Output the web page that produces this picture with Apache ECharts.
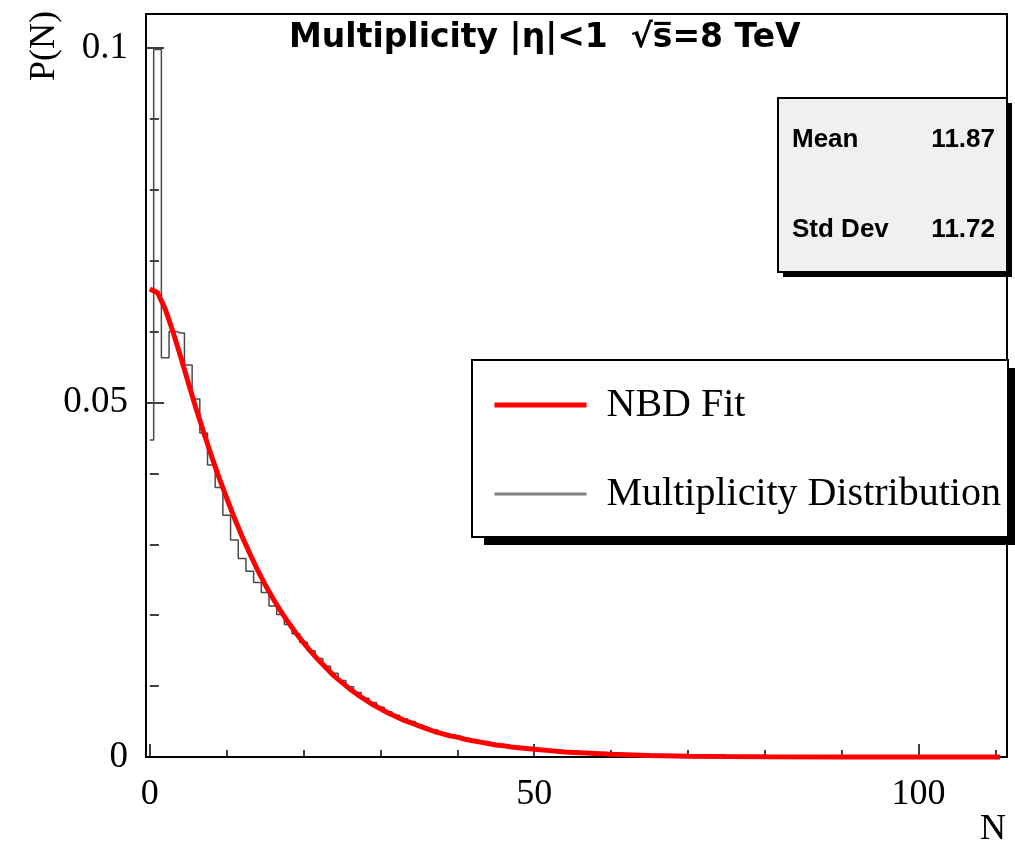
<!DOCTYPE html>
<html><head><meta charset="utf-8">
<script src="https://cdn.jsdelivr.net/npm/echarts@6.0.0/dist/echarts.min.js"></script>
<style>html,body{margin:0;padding:0;background:#fff}#c{width:1015px;height:852px}</style>
</head><body><div id="c"></div><script>
// ---- data ----
const chartTitle = 'Multiplicity |\u03b7|<1  \u221as\u0305=8 TeV';
const xTitle = 'N';
const yTitle = 'P(N)';
const legendNames = ['NBD Fit', 'Multiplicity Distribution'];
const statLabels = ['Mean', 'Std Dev'];
const statValues = ['11.87', '11.72'];
const xMajorTicks = [0, 50, 100];
const xMinorTicks = [10, 20, 30, 40, 60, 70, 80, 90, 110];
const yMajorTicks = [0, 0.05, 0.1];
const yMinorTicks = [0.01, 0.02, 0.03, 0.04, 0.06, 0.07, 0.08, 0.09];

// histogram: P(N) for N = 0,1,2,...
const histP = [
 0.0447, 0.0998, 0.0563, 0.0600, 0.0598, 0.0553, 0.0505, 0.0457, 0.0412, 0.0380,
 0.0341, 0.0306, 0.0280, 0.0262, 0.0246, 0.0232, 0.0213, 0.0201, 0.0187, 0.0174,
 0.0162, 0.0150, 0.0139, 0.0128, 0.0118, 0.0108, 0.0099, 0.0091, 0.0083, 0.0077,
 0.0070, 0.0064, 0.0059, 0.0054, 0.0050, 0.0045, 0.0041, 0.0038, 0.0034, 0.0031,
 0.0029, 0.0026, 0.0024, 0.0022, 0.0020, 0.0018, 0.0016, 0.0015, 0.0013, 0.0012,
 0.0011, 0.0010, 0.0009, 0.0008, 0.0007, 0.0006, 0.0005, 0.0005, 0.0004, 0.0004,
 0.0003, 0.0003, 0.0003, 0.0002, 0.0002, 0.0002, 0.0001, 0.0001, 0.0001, 0.0001,
 0.0001, 0.0001, 0.0001, 0.0001, 0.0001, 0.0000, 0.0000, 0.0000, 0.0000, 0.0000,
 0.0000, 0.0000, 0.0000, 0.0000, 0.0000, 0.0000, 0.0000, 0.0000, 0.0000, 0.0000,
 0.0000, 0.0000, 0.0000, 0.0000, 0.0000, 0.0000, 0.0000, 0.0000, 0.0000, 0.0000,
 0.0000, 0.0000, 0.0000, 0.0000, 0.0000, 0.0000, 0.0000, 0.0000, 0.0000, 0.0000,
 0.0000
];

// NBD fit curve
const fitN = [0,1,2,3,4,5,6,7,8,9,10,11,12,13,14,15,16,17,18,19,20,21,22,23,24,25,26,27,28,29,30,
  31,32,33,34,35,36,37,38,39,40,41,42,43,44,45,46,47,48,49,50,52,54,56,58,60,65,70,75,80,90,100,110.6];
const fitP = [0.0660,0.0655,0.0632,0.0600,0.0565,0.0528,0.0492,0.0458,0.0425,0.0394,0.0365,
  0.0337,0.0311,0.0287,0.0264,0.0243,0.0224,0.0206,0.0190,0.0175,0.0161,
  0.0148,0.0136,0.0125,0.0114,0.0105,0.0096,0.0088,0.0081,0.0074,0.0068,
  0.0062,0.0057,0.0052,0.0048,0.0044,0.0040,0.0036,0.0033,0.0030,0.0028,
  0.0025,0.0023,0.0021,0.0019,0.0017,0.0016,0.0014,0.0013,0.0012,0.0011,
  0.0009,0.0007,0.0006,0.0005,0.0004,0.0002,0.00012,0.00007,0.00004,0.00001,0,0];

// ---- build ----
const SERIF = '"Liberation Serif", "Times New Roman", serif';
const SANS = '"Liberation Sans", Arial, Helvetica, sans-serif';
const histData = histP.map((p, i) => [i, p]);
const fitData = fitN.map((n, i) => [n, fitP[i]]);

const X_MIN = -0.5, X_MAX = 111.5, Y_MIN = 0, Y_MAX = 0.1048;

const chart = echarts.init(document.getElementById('c'), null, {renderer: 'canvas'});
const option = {
  animation: false,
  backgroundColor: '#fff',
  title: {
    text: chartTitle, left: 289, top: 22, padding: 0,
    textStyle: {fontFamily: '"DejaVu Sans", sans-serif', fontWeight: 'bold', fontSize: 33, color: '#000'}
  },
  grid: {left: 146, top: 14, right: 8, bottom: 95, show: true, borderColor: '#000', borderWidth: 2, backgroundColor: 'transparent'},
  legend: {
    orient: 'vertical', left: 472, top: 360, z: 20,
    data: [
      {name: legendNames[0], lineStyle: {width: 5, color: '#ff0000'}},
      {name: legendNames[1], lineStyle: {width: 3, color: '#808080'}}
    ],
    itemWidth: 92, itemHeight: 14, itemGap: 35,
    padding: [18, 10, 21, 20],
    backgroundColor: 'transparent', borderWidth: 0,
    itemStyle: {opacity: 0, borderWidth: 0},
    selectedMode: false,
    textStyle: {fontFamily: SERIF, fontSize: 40, color: '#000', lineHeight: 46, padding: [8, 0, 0, 15]}
  },
  xAxis: [
    {
      type: 'value', min: X_MIN, max: X_MAX, position: 'bottom',
      axisLine: {show: true, onZero: false, lineStyle: {color: '#000', width: 2}},
      axisTick: {show: true, inside: true, length: 13, customValues: xMajorTicks, lineStyle: {color: '#000', width: 1.5}},
      axisLabel: {show: true, customValues: xMajorTicks, margin: 20, fontFamily: SERIF, fontSize: 36, color: '#000'},
      splitLine: {show: false}
    },
    {
      type: 'value', min: X_MIN, max: X_MAX, position: 'bottom',
      axisLine: {show: false},
      axisTick: {show: true, inside: true, length: 7, customValues: xMinorTicks, lineStyle: {color: '#000', width: 1.5}},
      axisLabel: {show: false},
      splitLine: {show: false}
    }
  ],
  yAxis: [
    {
      type: 'value', min: Y_MIN, max: Y_MAX, position: 'left',
      axisLine: {show: true, onZero: false, lineStyle: {color: '#000', width: 2}},
      axisTick: {show: true, inside: true, length: 18, customValues: yMajorTicks, lineStyle: {color: '#000', width: 1.5}},
      axisLabel: {show: true, customValues: yMajorTicks, margin: 18, fontFamily: SERIF, fontSize: 37, color: '#000'},
      splitLine: {show: false}
    },
    {
      type: 'value', min: Y_MIN, max: Y_MAX, position: 'left',
      axisLine: {show: false},
      axisTick: {show: true, inside: true, length: 9, customValues: yMinorTicks, lineStyle: {color: '#000', width: 1.5}},
      axisLabel: {show: false},
      splitLine: {show: false}
    }
  ],
  series: [
    {
      name: legendNames[1], type: 'line', step: 'middle', data: histData,
      xAxisIndex: 0, yAxisIndex: 0,
      symbol: 'none', showSymbol: false, silent: true,
      lineStyle: {color: '#4a4a4a', width: 1.5}, itemStyle: {color: '#808080'}, z: 2
    },
    {
      name: legendNames[0], type: 'line', data: fitData, clip: false,
      xAxisIndex: 0, yAxisIndex: 0,
      symbol: 'none', showSymbol: false, silent: true,
      lineStyle: {color: '#ff0000', width: 5}, itemStyle: {color: '#ff0000'}, z: 3
    }
  ],
  graphic: [
    // stats box (shadow + box + text)
    {type: 'rect', shape: {x: 783, y: 103, width: 229, height: 174}, style: {fill: '#000'}, z: 10},
    {type: 'rect', shape: {x: 778, y: 98, width: 229, height: 174}, style: {fill: '#f0f0f0', stroke: '#000', lineWidth: 2}, z: 11},
    {type: 'text', x: 792, y: 140, style: {text: statLabels[0], font: 'bold 26px ' + SANS, fill: '#000', align: 'left', verticalAlign: 'middle'}, z: 12},
    {type: 'text', x: 995, y: 140, style: {text: statValues[0], font: 'bold 26px ' + SANS, fill: '#000', align: 'right', verticalAlign: 'middle'}, z: 12},
    {type: 'text', x: 792, y: 230, style: {text: statLabels[1], font: 'bold 26px ' + SANS, fill: '#000', align: 'left', verticalAlign: 'middle'}, z: 12},
    {type: 'text', x: 995, y: 230, style: {text: statValues[1], font: 'bold 26px ' + SANS, fill: '#000', align: 'right', verticalAlign: 'middle'}, z: 12},
    // legend box (shadow + box); legend entries come from the legend component
    {type: 'rect', shape: {x: 484, y: 368, width: 536, height: 177}, style: {fill: '#000'}, z: 10},
    {type: 'rect', shape: {x: 472, y: 360, width: 536, height: 177}, style: {fill: '#fff', stroke: '#000', lineWidth: 2}, z: 11},
    // axis titles
    {type: 'text', x: 1006, y: 830, style: {text: xTitle, font: '36px ' + SERIF, fill: '#000', align: 'right', verticalAlign: 'middle'}, z: 12},
    {type: 'text', x: 45, y: 11, rotation: Math.PI / 2, style: {text: yTitle, font: '36px ' + SERIF, fill: '#000', align: 'right', verticalAlign: 'middle'}, z: 12}
  ]
};
chart.setOption(option);
</script></body></html>
